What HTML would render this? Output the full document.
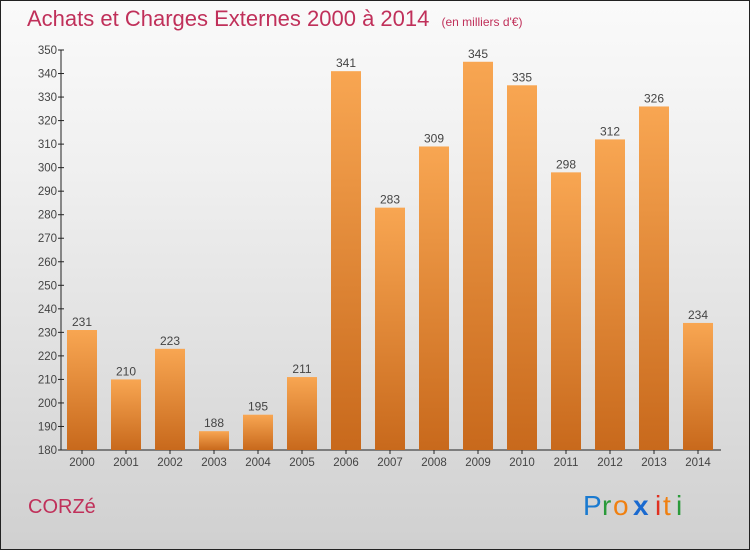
<!DOCTYPE html>
<html><head><meta charset="utf-8"><style>
html,body{margin:0;padding:0}
body{width:750px;height:550px;overflow:hidden;font-family:"Liberation Sans",sans-serif}
#wrap{position:absolute;left:0;top:0;width:748px;height:548px;border:1px solid #222;background:linear-gradient(#fafafa,#f0f0f0 30%,#d0d0d0)}
</style></head><body>
<div id="wrap">
<svg width="750" height="550" style="position:absolute;left:-1px;top:-1px">
<defs><linearGradient id="bg" x1="0" y1="0" x2="0" y2="1"><stop offset="0" stop-color="#f8a652"/><stop offset="1" stop-color="#c8691c"/></linearGradient></defs>
<text x="27" y="26" font-size="22" fill="#c0305a">Achats et Charges Externes 2000 à 2014 <tspan font-size="12" dx="6">(en milliers d'€)</tspan></text>
<g id="axes"></g><g id="bars"></g>
<text x="28" y="513" font-size="20" fill="#c0305a">CORZé</text>
<g font-size="28">
<text x="583" y="515" fill="#1a7ad0">P</text><text x="602" y="515" fill="#2a9a3a">r</text><text x="613" y="515" fill="#f08010">o</text><text x="633" y="515" fill="#1a6ad0" font-weight="bold">x</text><text x="655" y="515" fill="#e03020">i</text><text x="663" y="515" fill="#f08010">t</text><text x="676" y="515" fill="#2a9a3a">i</text></g>
</svg></div>
<script>
const years=["2000","2001","2002","2003","2004","2005","2006","2007","2008","2009","2010","2011","2012","2013","2014"];
const values=[231,210,223,188,195,211,341,283,309,345,335,298,312,326,234];
const ticks=[180,190,200,210,220,230,240,250,260,270,280,290,300,310,320,330,340,350];
const NS="http://www.w3.org/2000/svg";
const y0=450,y1=50,vmin=180,vmax=350;
const ys=v=>y0-(v-vmin)/(vmax-vmin)*(y0-y1);
const xs=i=>82+i*44;
function mk(t,a,p){const e=document.createElementNS(NS,t);for(const k in a)e.setAttribute(k,a[k]);p.appendChild(e);return e;}
const ax=document.getElementById('axes'),bg=document.getElementById('bars');
const yl=mk('line',{x1:61,y1:y1,x2:61,y2:y0,stroke:'#222'},ax);


const xl=mk('line',{x1:61,y1:y0,x2:721,y2:y0,stroke:'#222'},ax);


ticks.forEach(t=>{const y=ys(t);mk('line',{x1:58,y1:y,x2:64,y2:y,stroke:'#222'},ax);
const tx=mk('text',{x:57,y:y+4,'font-size':11.5,'text-anchor':'end',fill:'#444'},ax);tx.textContent=t;

});
years.forEach((yr,i)=>{const x=xs(i),v=values[i];
const r=mk('rect',{x:x-15,y:ys(v),width:30,height:y0-ys(v),fill:'url(#bg)'},bg);


mk('line',{x1:x,y1:y0,x2:x,y2:y0+4,stroke:'#222'},ax);
const l=mk('text',{x:x,y:ys(v)-4,'font-size':12,'text-anchor':'middle',fill:'#444'},bg);l.textContent=v;


const xt=mk('text',{x:x,y:466,'font-size':11.5,'text-anchor':'middle',fill:'#444'},ax);xt.textContent=yr;

});
</script>
</body></html>
